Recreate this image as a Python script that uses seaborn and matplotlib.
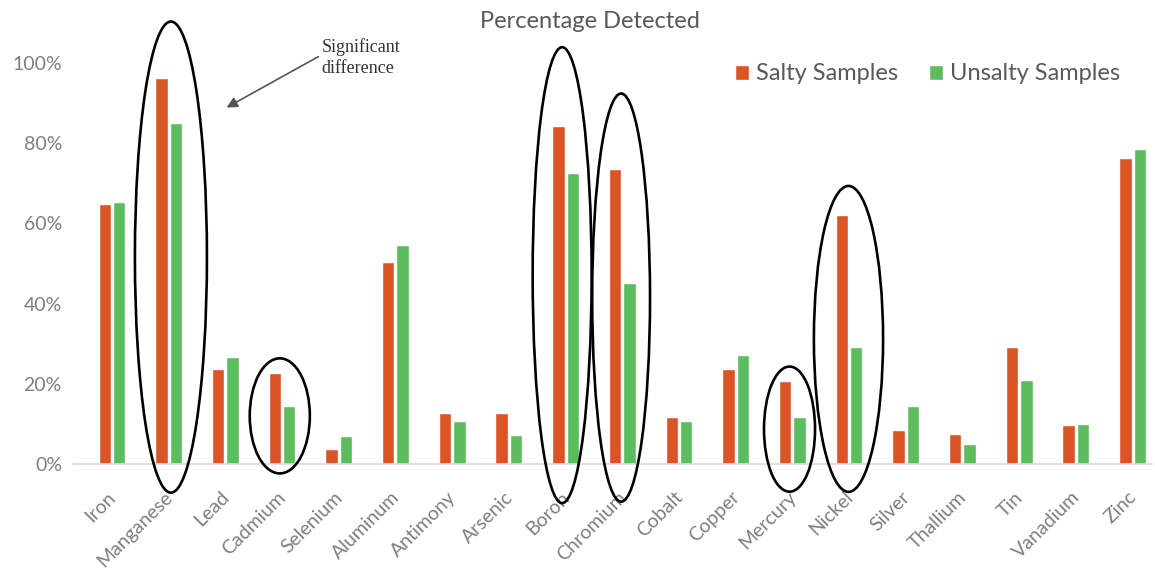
import numpy as np
import pandas as pd
import matplotlib
matplotlib.use("Agg")
import matplotlib.pyplot as plt
from matplotlib.patches import Ellipse
from matplotlib.transforms import ScaledTranslation
import seaborn as sns

# ---- data ----
elements = ["Iron", "Manganese", "Lead", "Cadmium", "Selenium", "Aluminum", "Antimony",
            "Arsenic", "Boron", "Chromium", "Cobalt", "Copper", "Mercury", "Nickel",
            "Silver", "Thallium", "Tin", "Vanadium", "Zinc"]
salty = [64.8, 96.2, 23.7, 22.7, 3.7, 50.5, 12.8, 12.8, 84.4, 73.5, 11.8, 23.7,
         20.7, 62.0, 8.6, 7.6, 29.3, 9.7, 76.2]
unsalty = [65.4, 85.0, 26.6, 14.5, 7.0, 54.5, 10.8, 7.3, 72.7, 45.2, 10.8, 27.3,
           11.8, 29.3, 14.5, 4.9, 20.9, 10.0, 78.5]
series_names = ["Salty Samples", "Unsalty Samples"]
yticks = [0, 20, 40, 60, 80, 100]
ytick_labels = ["0%", "20%", "40%", "60%", "80%", "100%"]
title = "Percentage Detected"
note = "Significant\ndifference"

# highlight ellipses (center category pos, center %, width in categories, height in %)
ell_x = [1.04, 2.96, 7.94, 8.98, 11.95, 12.99]
ell_y = [51.6, 12.0, 47.1, 41.5, 8.7, 31.2]
ell_w = [1.27, 1.06, 1.04, 1.02, 0.90, 1.22]
ell_h = [117.5, 28.7, 113.7, 101.8, 31.2, 76.3]

colors = ["#DB5426", "#5CBD5E"]

df = pd.DataFrame({
    "Element": elements * 2,
    "Series": [series_names[0]] * len(elements) + [series_names[1]] * len(elements),
    "Value": salty + unsalty,
})

sns.set_theme(style="white")
plt.rcParams["font.family"] = ["Lato", "DejaVu Sans"]

fig = plt.figure(figsize=(11.55, 5.76), dpi=100)
ax = fig.add_axes([73 / 1155, 112 / 576, 1079 / 1155, 421 / 576])

sns.barplot(data=df, x="Element", y="Value", hue="Series", order=elements,
            hue_order=series_names, palette=colors, width=0.51, gap=0.14,
            saturation=1, ax=ax, legend=True)

ax.set_xlim(-0.687, 18.343)
ax.set_ylim(0, 105)
ax.set_xlabel("")
ax.set_ylabel("")
for s in ["top", "right", "left"]:
    ax.spines[s].set_visible(False)
ax.spines["bottom"].set_color("#D9D9D9")
ax.spines["bottom"].set_linewidth(1.2)
ax.tick_params(axis="both", length=0)
ax.set_yticks(yticks)
ax.set_yticklabels(ytick_labels, fontsize=14, color="#7F7F7F")
ax.tick_params(axis="y", pad=8)
ax.set_xticks(range(len(elements)))
ax.set_xticklabels(elements, rotation=45, ha="right", va="center",
                   rotation_mode="anchor", fontsize=14, color="#7F7F7F")
ax.tick_params(axis="x", pad=22)
for lab in ax.get_xticklabels():
    lab.set_transform(lab.get_transform() + ScaledTranslation(1 / 100, 0, fig.dpi_scale_trans))
ax.grid(False)

leg = ax.legend(loc="center left", bbox_to_anchor=(735 / 1155, 1 - 74 / 576),
                bbox_transform=fig.transFigure, ncol=2, frameon=False,
                fontsize=17, handlelength=0.6, handleheight=0.6,
                handletextpad=0.3, columnspacing=1.3, borderpad=0, borderaxespad=0)
for t in leg.get_texts():
    t.set_color("#595959")

fig.text(590 / 1155, 1 - 21 / 576, title, ha="center", va="center",
         fontsize=17, color="#595959")

for cx, cy, w, h in zip(ell_x, ell_y, ell_w, ell_h):
    e = Ellipse((cx, cy), w, h, transform=ax.transData, fill=False,
                edgecolor="black", linewidth=1.9, clip_on=False, zorder=10)
    ax.add_patch(e)

ax.annotate("", xy=(2.02, 88.9), xytext=(3.64, 101.6), xycoords="data",
            textcoords="data", annotation_clip=False,
            arrowprops=dict(arrowstyle="-|>", color="#555555", lw=1.2,
                            mutation_scale=16, shrinkA=0, shrinkB=0))
ax.text(3.70, 106.3, note, ha="left", va="top", fontsize=13,
        family="Liberation Serif", color="#333333", linespacing=1.3,
        clip_on=False)

fig.savefig("out.png", dpi=100)
